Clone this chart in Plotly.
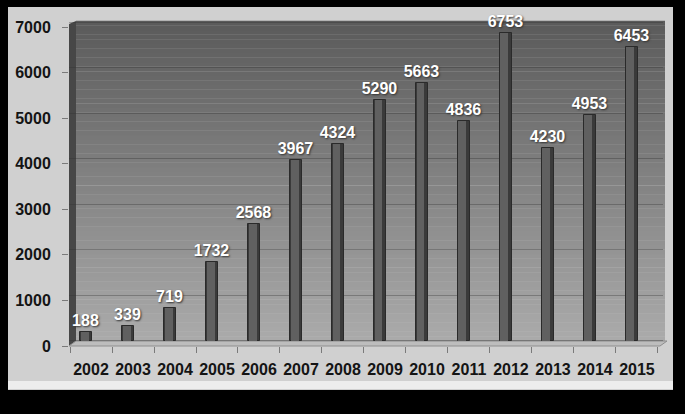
import plotly.graph_objects as go

# ---- data ----
years = ["2002", "2003", "2004", "2005", "2006", "2007", "2008",
         "2009", "2010", "2011", "2012", "2013", "2014", "2015"]
values = [188, 339, 719, 1732, 2568, 3967, 4324, 5290, 5663, 4836, 6753, 4230, 4953, 6453]
y_tick_values = [0, 1000, 2000, 3000, 4000, 5000, 6000, 7000]
y_tick_labels = ["0", "1000", "2000", "3000", "4000", "5000", "6000", "7000"]

# ---- geometry (pixels) ----
W, H = 685, 414
L, R, T, B = 69, 22, 17, 68
PW, PH = W - L - R, H - T - B


def px_x(p):
    return (p - L) / PW


def px_y(p):
    return (H - B - p) / PH


FONT = "Liberation Sans, Arial, sans-serif"

fig = go.Figure()

# dark (right/shadow) part of each bar
fig.add_trace(go.Bar(
    x=years, y=values, width=0.27,
    marker=dict(color="#3a3a3a", line=dict(color="#2a2a2a", width=1)),
    text=[str(v) for v in values], textposition="outside",
    textfont=dict(family=FONT, size=16, color="white", weight=700,
                  shadow="1px 1px 2px #333333"),
    constraintext="none", cliponaxis=False,
    hoverinfo="x+y", showlegend=False,
))
# lighter face of each bar
fig.add_trace(go.Bar(
    x=years, y=values, width=0.19, offset=-0.13,
    marker=dict(color="#606060", line=dict(width=0)),
    hoverinfo="skip", showlegend=False,
))
# carrier trace for the front-plane axes (labels)
fig.add_trace(go.Scatter(
    x=years, y=values, xaxis="x2", yaxis="y2", mode="markers",
    marker=dict(opacity=0), hoverinfo="skip", showlegend=False,
))

shapes = []
# light panel
shapes.append(dict(type="rect", xref="paper", yref="paper",
                   x0=px_x(8), x1=px_x(673), y0=px_y(390), y1=px_y(7),
                   fillcolor="#d0d0d0", line=dict(width=0), layer="below"))
shapes.append(dict(type="rect", xref="paper", yref="paper",
                   x0=px_x(8), x1=px_x(673), y0=px_y(389), y1=px_y(381),
                   fillcolor="#ededed", line=dict(width=0), layer="below"))
# back wall gradient
N = 70
top_c, bot_c = 0x5a, 0xab
wall_top = 7020
for i in range(N):
    f0 = i / N
    f1 = (i + 1) / N
    c = int(round(bot_c + (top_c - bot_c) * (f0 + f1) / 2))
    shapes.append(dict(type="rect", xref="paper", yref="y",
                       x0=px_x(76), x1=px_x(665), y0=wall_top * f0, y1=wall_top * f1 + 5,
                       fillcolor=f"rgb({c},{c},{c})", line=dict(width=0), layer="below"))
# left side wall
shapes.append(dict(type="path", xref="paper", yref="paper",
                   path=f"M {px_x(69)},{px_y(24)} L {px_x(76)},{px_y(21)} L {px_x(76)},{px_y(341)} L {px_x(69)},{px_y(346)} Z",
                   fillcolor="#474747", line=dict(width=0), layer="between"))
# floor
shapes.append(dict(type="path", xref="paper", yref="paper",
                   path=f"M {px_x(69)},{px_y(346)} L {px_x(76)},{px_y(341)} L {px_x(667)},{px_y(341)} L {px_x(660)},{px_y(346)} Z",
                   fillcolor="#bdbdbd", line=dict(color="#8e8e8e", width=1), layer="between"))

fig.update_layout(
    width=W, height=H,
    margin=dict(l=L, r=R, t=T, b=B, pad=0),
    paper_bgcolor="black", plot_bgcolor="rgba(0,0,0,0)",
    barmode="overlay", bargap=0,
    shapes=shapes,
    xaxis=dict(type="category", categoryorder="array", categoryarray=years,
               range=[-0.405, 13.74], showticklabels=False, showgrid=False,
               zeroline=False, showline=False, ticks="", fixedrange=True),
    yaxis=dict(range=[-110, 7110], tickvals=y_tick_values, showticklabels=False,
               showgrid=True, gridcolor="rgba(50,50,50,0.35)", gridwidth=1,
               zeroline=False, showline=False, ticks="", fixedrange=True),
    xaxis2=dict(type="category", categoryorder="array", categoryarray=years,
                overlaying="x", anchor="y", side="bottom",
                range=[-0.524, 13.62], tickson="boundaries", tickangle=0,
                ticks="outside", ticklen=6, tickcolor="#7a7a7a", tickwidth=1,
                ticklabelstandoff=12,
                tickfont=dict(family=FONT, size=16, color="#141414", weight=700),
                showgrid=False, zeroline=False, showline=False, fixedrange=True),
    yaxis2=dict(overlaying="y", anchor="x", side="left", range=[0, 7220],
                tickvals=y_tick_values, ticktext=y_tick_labels,
                ticks="outside", ticklen=6, tickcolor="#7a7a7a", tickwidth=1,
                ticklabelstandoff=8,
                tickfont=dict(family=FONT, size=16, color="#141414", weight=700),
                showgrid=False, zeroline=False, showline=False, fixedrange=True),
)

fig.write_html("out.html")
